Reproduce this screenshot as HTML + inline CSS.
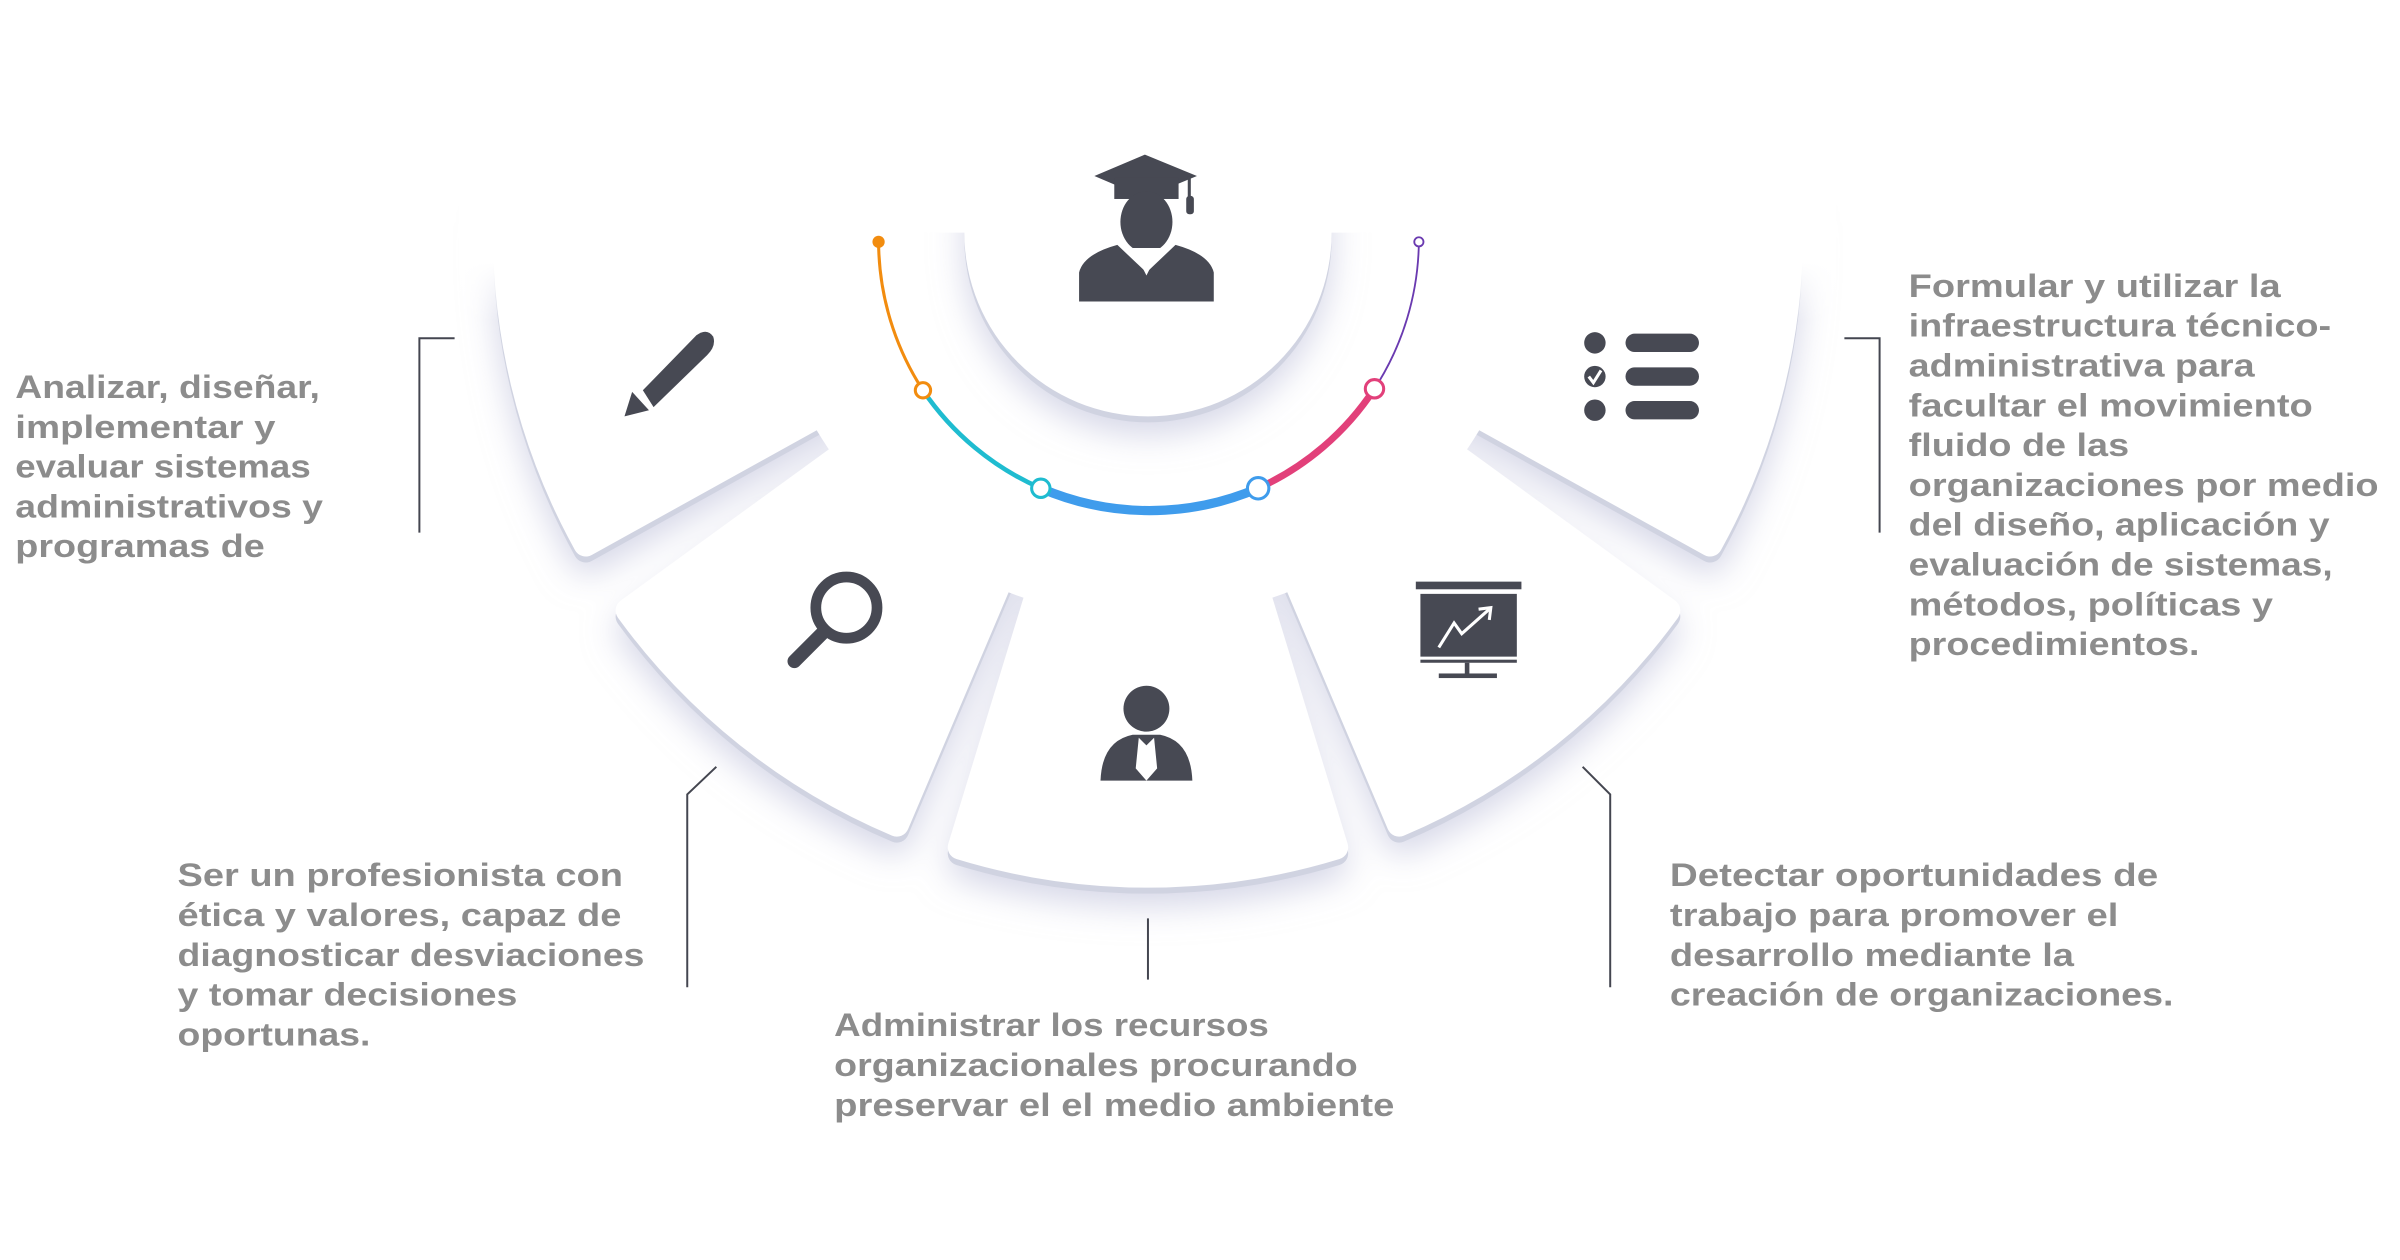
<!DOCTYPE html>
<html><head><meta charset="utf-8"><style>
html,body{margin:0;padding:0;background:#fff;width:2400px;height:1260px;overflow:hidden}
svg{display:block}
text{font-family:"Liberation Sans",sans-serif;font-weight:bold;fill:#8c8c8c;font-size:21px}
</style></head><body>
<svg width="2400" height="1260" viewBox="0 0 1568 823.2" preserveAspectRatio="none">
<defs>
<filter id="sh" x="-30%" y="-30%" width="160%" height="170%">
 <feGaussianBlur in="SourceAlpha" stdDeviation="11" result="b"/>
 <feOffset in="b" dy="12" result="bo"/>
 <feFlood flood-color="#b4b6d4" flood-opacity="0.55"/>
 <feComposite in2="bo" operator="in" result="s1"/>
 <feOffset in="SourceAlpha" dy="4" result="o2"/>
 <feFlood flood-color="#d0d3e1"/>
 <feComposite in2="o2" operator="in" result="s2"/>
 <feMerge><feMergeNode in="s1"/><feMergeNode in="s2"/><feMergeNode in="SourceGraphic"/></feMerge>
</filter>
<linearGradient id="fadeL" x1="0" y1="0" x2="0" y2="1">
 <stop offset="0" stop-color="#fff" stop-opacity="1"/>
 <stop offset="0.45" stop-color="#fff" stop-opacity="1"/>
 <stop offset="1" stop-color="#fff" stop-opacity="0"/>
</linearGradient>
</defs>
<rect width="1568" height="824" fill="#fff"/>
<g filter="url(#sh)" fill="#fff" stroke="#fff" stroke-width="16" stroke-linejoin="round">
 <path d="M330.3,137.3 A420,420 0 0 0 382.7,355.6 L750,152 Z"/>
 <path d="M410.2,398.9 A420,420 0 0 0 585.9,538.6 L750,152 Z"/>
 <path d="M627.2,553.6 A420,420 0 0 0 872.8,553.6 L750,152 Z"/>
 <path d="M914.1,538.6 A420,420 0 0 0 1089.8,398.9 L750,152 Z"/>
 <path d="M1117.3,355.6 A420,420 0 0 0 1169.7,137.3 L750,152 Z"/>
</g>
<!-- cover inner region -->
<circle cx="750" cy="152" r="252" fill="#fff"/>
<rect x="300" y="60" width="900" height="92" fill="#fff"/>
<rect x="300" y="140" width="330" height="70" fill="url(#fadeL)"/>
<rect x="870" y="140" width="330" height="70" fill="url(#fadeL)"/>
<g filter="url(#sh)" fill="#fff">
 <path d="M630,120 L630,152 A120,120 0 0 0 870,152 L870,120 Z"/>
</g>
<rect x="600" y="60" width="300" height="92" fill="#fff"/>
<!-- arc -->
<g fill="none" stroke-linecap="round">
 <path d="M574,158 A180,180 0 0 0 603,255" stroke="#f28c0f" stroke-width="2"/>
 <path d="M603,255 A180,180 0 0 0 680,319" stroke="#1fbcd0" stroke-width="3"/>
 <path d="M680,319 A180,180 0 0 0 822,319" stroke="#3f9cec" stroke-width="6"/>
 <path d="M822,319 A180,180 0 0 0 898,254" stroke="#e2407a" stroke-width="4.5"/>
 <path d="M898,254 A180,180 0 0 0 927,158" stroke="#6a3ab0" stroke-width="1.2"/>
</g>
<circle cx="574" cy="158" r="4" fill="#f28c0f"/>
<circle cx="927" cy="158" r="3" fill="#fff" stroke="#6a3ab0" stroke-width="1.2"/>
<circle cx="603" cy="255" r="5" fill="#fff" stroke="#f28c0f" stroke-width="2"/>
<circle cx="680" cy="319" r="6" fill="#fff" stroke="#1fbcd0" stroke-width="2"/>
<circle cx="822" cy="319" r="7" fill="#fff" stroke="#3f9cec" stroke-width="2"/>
<circle cx="898" cy="254" r="6" fill="#fff" stroke="#e2407a" stroke-width="2"/>
<!-- icons -->
<g fill="#474953">
 <polygon points="748,101 782,115 748,129 715,115"/>
 <rect x="728" y="116" width="42" height="14"/>
 <rect x="776" y="115" width="2" height="22"/><rect x="775" y="128" width="5" height="12" rx="2"/>
 <ellipse cx="749" cy="145" rx="17" ry="20"/>
 <path d="M705,197 L705,178 Q708,166 730,160 L749,178 L768,160 Q790,166 793,178 L793,197 Z"/>
 <path d="M740,162 L749,180 L758,162 Z" fill="#fff"/>
 <path d="M420,255 L455,219 Q462,214 466,220 Q468,226 462,232 L427,266 Z"/>
 <polygon points="408,272 413,256 424,268"/>
 <circle cx="1042" cy="224" r="7"/><circle cx="1042" cy="246" r="7"/><circle cx="1042" cy="268" r="7"/>
 <rect x="1062" y="218" width="48" height="12" rx="6"/><rect x="1062" y="240" width="48" height="12" rx="6"/><rect x="1062" y="262" width="48" height="12" rx="6"/>
 <circle cx="749" cy="463" r="15"/>
 <path d="M719,510 Q720,484 740,480 L758,480 Q778,484 779,510 Z"/>
 <rect x="925" y="380" width="69" height="5"/>
 <rect x="928" y="388" width="63" height="41"/>
 <rect x="928" y="431" width="63" height="2"/>
 <rect x="957" y="433" width="3" height="8"/>
 <rect x="940" y="440" width="38" height="3"/>
</g>
<path d="M1038,246 l3,4 l5,-8" stroke="#fff" stroke-width="2" fill="none"/>
<path d="M744,482 L749,487 L754,482 L756,502 L749,510 L742,502 Z" fill="#fff"/>
<circle cx="553" cy="397" r="20" fill="none" stroke="#474953" stroke-width="7"/>
<line x1="538" y1="413" x2="519" y2="432" stroke="#474953" stroke-width="9" stroke-linecap="round"/>
<polyline points="940,423 950,407 955,414 973,398" fill="none" stroke="#fff" stroke-width="2"/>
<polyline points="966,398 974,397 973,405" fill="none" stroke="#fff" stroke-width="2"/>
<!-- connectors -->
<g fill="none" stroke="#444650" stroke-width="1.3">
 <polyline points="297,221 274,221 274,348"/>
 <polyline points="468,501 449,519 449,645"/>
 <line x1="750" y1="600" x2="750" y2="640"/>
 <polyline points="1034,501 1052,519 1052,645"/>
 <polyline points="1205,221 1228,221 1228,348"/>
</g>
<!-- texts -->
<g>
<text x="10" y="260" textLength="199" lengthAdjust="spacingAndGlyphs">Analizar, diseñar,</text>
<text x="10" y="286" textLength="170" lengthAdjust="spacingAndGlyphs">implementar y</text>
<text x="10" y="312" textLength="193" lengthAdjust="spacingAndGlyphs">evaluar sistemas</text>
<text x="10" y="338" textLength="201" lengthAdjust="spacingAndGlyphs">administrativos y</text>
<text x="10" y="364" textLength="163" lengthAdjust="spacingAndGlyphs">programas de</text>

<text x="116" y="579" textLength="291" lengthAdjust="spacingAndGlyphs">Ser un  profesionista con</text>
<text x="116" y="605" textLength="290" lengthAdjust="spacingAndGlyphs">ética y valores, capaz de</text>
<text x="116" y="631" textLength="305" lengthAdjust="spacingAndGlyphs">diagnosticar desviaciones</text>
<text x="116" y="657" textLength="222" lengthAdjust="spacingAndGlyphs">y tomar decisiones</text>
<text x="116" y="683" textLength="126" lengthAdjust="spacingAndGlyphs">oportunas.</text>

<text x="545" y="677" textLength="284" lengthAdjust="spacingAndGlyphs">Administrar los recursos</text>
<text x="545" y="703" textLength="342" lengthAdjust="spacingAndGlyphs">organizacionales procurando</text>
<text x="545" y="729" textLength="366" lengthAdjust="spacingAndGlyphs">preservar el el medio ambiente</text>

<text x="1091" y="579" textLength="319" lengthAdjust="spacingAndGlyphs">Detectar oportunidades de</text>
<text x="1091" y="605" textLength="293" lengthAdjust="spacingAndGlyphs">trabajo para promover el</text>
<text x="1091" y="631" textLength="264" lengthAdjust="spacingAndGlyphs">desarrollo mediante la</text>
<text x="1091" y="657" textLength="329" lengthAdjust="spacingAndGlyphs">creación de organizaciones.</text>

<text x="1247" y="194" textLength="243" lengthAdjust="spacingAndGlyphs">Formular y utilizar la</text>
<text x="1247" y="220" textLength="276" lengthAdjust="spacingAndGlyphs">infraestructura técnico-</text>
<text x="1247" y="246" textLength="226" lengthAdjust="spacingAndGlyphs">administrativa para</text>
<text x="1247" y="272" textLength="264" lengthAdjust="spacingAndGlyphs">facultar el movimiento</text>
<text x="1247" y="298" textLength="144" lengthAdjust="spacingAndGlyphs">fluido de las</text>
<text x="1247" y="324" textLength="307" lengthAdjust="spacingAndGlyphs">organizaciones por medio</text>
<text x="1247" y="350" textLength="275" lengthAdjust="spacingAndGlyphs">del diseño, aplicación y</text>
<text x="1247" y="376" textLength="277" lengthAdjust="spacingAndGlyphs">evaluación de sistemas,</text>
<text x="1247" y="402" textLength="238" lengthAdjust="spacingAndGlyphs">métodos, políticas y</text>
<text x="1247" y="428" textLength="190" lengthAdjust="spacingAndGlyphs">procedimientos.</text>
</g>
</svg>
</body></html>
